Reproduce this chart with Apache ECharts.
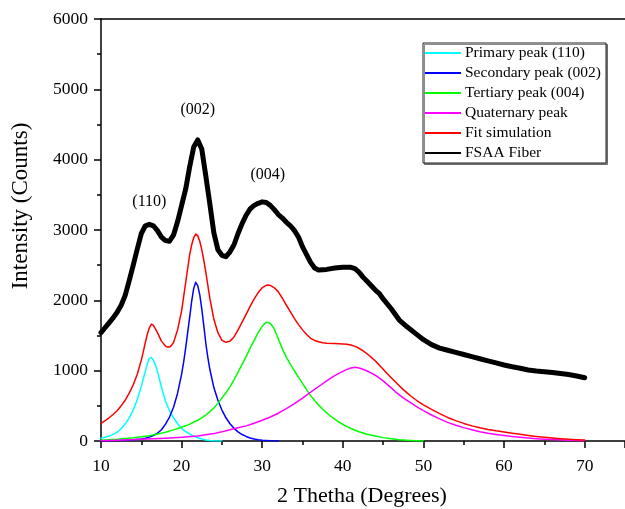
<!DOCTYPE html>
<html>
<head>
<meta charset="utf-8">
<script src="https://cdn.jsdelivr.net/npm/echarts@6/dist/echarts.min.js"></script>
<style>
  html, body { margin: 0; padding: 0; background: #fff; }
  #chart { width: 625px; height: 509px; }
</style>
</head>
<body>
<div id="chart"></div>
<script>
// XRD pattern of FSAA fiber with deconvoluted peaks: [2θ (deg), intensity (counts)]
const primaryPeak110 = [
  [10, 38], [10.5, 52], [11, 70], [11.5, 95], [12, 125], [12.5, 175], [13, 240], [13.5, 330],
  [14, 440], [14.5, 590], [15, 780], [15.25, 885], [15.5, 990], [15.75, 1100], [16, 1175],
  [16.25, 1188], [16.5, 1150], [16.75, 1080], [17, 990], [17.25, 880], [17.5, 765], [18, 565],
  [18.5, 430], [19, 330], [19.5, 245], [20, 180], [20.5, 135], [21, 100], [21.5, 70], [22, 45],
  [22.5, 28], [23, 15], [23.5, 8], [24, 4], [25, 0]
];
const secondaryPeak002 = [
  [10, 2], [12, 6], [13, 11], [14, 18], [15, 30], [15.5, 40], [16, 55], [16.5, 78], [17, 110],
  [17.5, 160], [18, 240], [18.5, 340], [19, 480], [19.5, 680], [20, 950], [20.25, 1120],
  [20.5, 1320], [20.75, 1540], [21, 1760], [21.25, 1990], [21.5, 2170], [21.75, 2256],
  [22, 2210], [22.25, 2080], [22.5, 1880], [22.75, 1640], [23, 1390], [23.25, 1190],
  [23.5, 1020], [24, 760], [24.5, 580], [25, 440], [25.5, 330], [26, 245], [26.5, 180],
  [27, 130], [27.5, 92], [28, 65], [28.5, 43], [29, 28], [29.5, 17], [30, 10], [31, 2], [32, 0]
];
const tertiaryPeak004 = [
  [10, 12], [12, 25], [14, 45], [16, 75], [17, 98], [18, 125], [19, 158], [20, 195], [21, 240],
  [22, 295], [22.5, 330], [23, 370], [23.5, 418], [24, 470], [24.5, 535], [25, 610], [25.5, 685],
  [26, 770], [26.5, 870], [27, 980], [27.5, 1090], [28, 1200], [28.5, 1320], [29, 1430],
  [29.5, 1540], [30, 1630], [30.25, 1665], [30.5, 1685], [30.75, 1685], [31, 1670],
  [31.25, 1635], [31.5, 1590], [32, 1450], [32.5, 1310], [33, 1190], [33.5, 1090], [34, 995],
  [34.5, 905], [35, 820], [35.5, 730], [36, 645], [36.5, 575], [37, 510], [37.5, 452],
  [38, 400], [38.5, 352], [39, 310], [39.5, 270], [40, 235], [40.5, 205], [41, 178], [42, 132],
  [43, 97], [44, 70], [45, 48], [46, 31], [47, 19], [48, 10], [49, 4], [50, 0]
];
const quaternaryPeak = [
  [10, 4], [12, 12], [15, 25], [18, 40], [20, 52], [22, 72], [24, 105], [25, 130], [26, 160],
  [27, 188], [28, 215], [29, 252], [30, 295], [31, 342], [32, 395], [33, 460], [34, 530],
  [35, 610], [36, 695], [37, 775], [38, 855], [38.5, 895], [39, 930], [39.5, 962], [40, 990],
  [40.5, 1018], [41, 1038], [41.5, 1047], [42, 1038], [42.5, 1020], [43, 995], [43.5, 968],
  [44, 935], [44.5, 897], [45, 855], [45.5, 806], [46, 755], [46.5, 703], [47, 655], [47.5, 613],
  [48, 575], [48.5, 537], [49, 500], [49.5, 465], [50, 432], [51, 370], [52, 315], [53, 265],
  [54, 225], [55, 190], [56, 160], [57, 132], [58, 110], [59, 93], [60, 78], [61, 64], [62, 52],
  [63, 42], [64, 33], [65, 26], [66, 20], [68, 11], [70, 5]
];
const fitSimulation = [
  [10, 251], [10.5, 288], [11, 330], [11.5, 377], [12, 430], [12.5, 500], [13, 580], [13.5, 680],
  [14, 800], [14.5, 950], [15, 1150], [15.25, 1270], [15.5, 1400], [15.75, 1520], [16, 1610],
  [16.25, 1662], [16.5, 1645], [16.75, 1595], [17, 1540], [17.5, 1420], [18, 1350],
  [18.25, 1335], [18.5, 1335], [18.75, 1360], [19, 1400], [19.5, 1580], [20, 1850], [20.5, 2250],
  [21, 2650], [21.25, 2790], [21.5, 2890], [21.75, 2942], [22, 2920], [22.25, 2840],
  [22.5, 2720], [22.75, 2570], [23, 2400], [23.5, 2030], [24, 1730], [24.5, 1540], [25, 1430],
  [25.5, 1403], [26, 1420], [26.5, 1480], [27, 1580], [27.5, 1690], [28, 1800], [28.5, 1915],
  [29, 2020], [29.5, 2110], [30, 2180], [30.5, 2213], [30.75, 2218], [31, 2212], [31.5, 2178],
  [32, 2120], [32.5, 2030], [33, 1930], [33.5, 1835], [34, 1740], [34.5, 1655], [35, 1580],
  [35.5, 1515], [36, 1460], [36.5, 1430], [37, 1410], [37.5, 1398], [38, 1390], [39, 1385],
  [40, 1380], [40.5, 1375], [41, 1365], [41.5, 1345], [42, 1318], [42.5, 1283], [43, 1240],
  [43.5, 1193], [44, 1140], [44.5, 1082], [45, 1020], [45.5, 960], [46, 900], [46.5, 842],
  [47, 785], [47.5, 730], [48, 680], [48.5, 633], [49, 590], [49.5, 550], [50, 515], [51, 450],
  [52, 390], [53, 335], [54, 290], [55, 250], [56, 215], [57, 188], [58, 165], [59, 145],
  [60, 128], [61, 111], [62, 95], [63, 79], [64, 65], [65, 53], [66, 42], [67, 33], [68, 25],
  [69, 19], [70, 14]
];
const fsaaFiber = [
  [10, 1540], [10.5, 1610], [11, 1680], [11.5, 1750], [12, 1830], [12.5, 1930], [13, 2070],
  [13.5, 2280], [14, 2500], [14.5, 2730], [15, 2950], [15.5, 3060], [16, 3080], [16.5, 3060],
  [17, 2990], [17.5, 2900], [18, 2850], [18.5, 2840], [19, 2930], [19.5, 3120], [20, 3350],
  [20.5, 3580], [21, 3900], [21.5, 4180], [22, 4280], [22.5, 4150], [23, 3770], [23.5, 3370],
  [24, 2960], [24.5, 2720], [25, 2640], [25.5, 2620], [26, 2690], [26.5, 2790], [27, 2950],
  [27.5, 3090], [28, 3210], [28.5, 3300], [29, 3350], [29.5, 3380], [30, 3400], [30.5, 3390],
  [31, 3350], [31.5, 3290], [32, 3220], [32.5, 3170], [33, 3110], [33.5, 3060], [34, 2990],
  [34.5, 2900], [35, 2760], [35.5, 2650], [36, 2540], [36.5, 2460], [37, 2430], [38, 2440],
  [39, 2460], [40, 2470], [41, 2470], [41.5, 2450], [42, 2400], [42.5, 2330], [43, 2270],
  [43.5, 2210], [44, 2150], [44.5, 2100], [45, 2020], [46, 1880], [47, 1720], [48, 1620],
  [49, 1530], [50, 1440], [51, 1370], [52, 1320], [53, 1290], [54, 1260], [55, 1230],
  [56, 1200], [57, 1170], [58, 1140], [59, 1110], [60, 1080], [61, 1055], [62, 1035],
  [63, 1010], [64, 995], [65, 985], [66, 975], [67, 960], [68, 945], [69, 925], [70, 900]
];
const seriesNames = [
  'Primary peak (110)', 'Secondary peak (002)', 'Tertiary peak (004)',
  'Quaternary peak', 'Fit simulation', 'FSAA Fiber'
];
// Miller-index labels above the diffraction maxima: [2θ, counts, text]
const peakLabels = [
  [16.0, 3400, '(110)'],
  [22.0, 4710, '(002)'],
  [30.7, 3790, '(004)']
];

const FONT = '"Liberation Serif", "Times New Roman", serif';
const chart = echarts.init(document.getElementById('chart'), null, { renderer: 'canvas' });

function curve(name, data, color, width) {
  return {
    name: name,
    type: 'line',
    data: data,
    showSymbol: false,
    symbol: 'none',
    smooth: false,
    lineStyle: { color: color, width: width, join: 'round', cap: 'round' },
    itemStyle: { color: color },
    emphasis: { disabled: true },
    animation: false,
    z: 2
  };
}

const series = [
  curve(seriesNames[0], primaryPeak110, '#00FFFF', 1.5),
  curve(seriesNames[1], secondaryPeak002, '#0000FF', 1.5),
  curve(seriesNames[2], tertiaryPeak004, '#00FF00', 1.5),
  curve(seriesNames[3], quaternaryPeak, '#FF00FF', 1.5),
  curve(seriesNames[4], fitSimulation, '#FF0000', 1.5),
  curve(seriesNames[5], fsaaFiber, '#000000', 5)
];
series[5].z = 3;
series[5].markPoint = {
  symbol: 'circle',
  symbolSize: 1,
  itemStyle: { color: 'rgba(0,0,0,0)' },
  label: {
    show: true,
    position: 'inside',
    color: '#000',
    fontFamily: FONT,
    fontSize: 16,
    formatter: p => p.name
  },
  data: peakLabels.map(d => ({ coord: [d[0], d[1]], name: d[2] }))
};

const axisFont = { fontFamily: FONT, fontSize: 17.5, color: '#000' };

chart.setOption({
  backgroundColor: '#fff',
  animation: false,
  grid: { left: 101, right: -1, top: 19, bottom: 68, containLabel: false },
  legend: {
    orient: 'vertical',
    left: 423,
    top: 43,
    data: seriesNames,
    icon: 'rect',
    itemWidth: 36,
    itemHeight: 2,
    itemGap: 4,
    padding: [2, 5, 2, 2],
    borderColor: '#222',
    borderWidth: 1,
    backgroundColor: '#fff',
    shadowColor: 'rgba(0,0,0,0.45)',
    shadowBlur: 0,
    shadowOffsetX: 1.5,
    shadowOffsetY: 1.5,
    textStyle: { fontFamily: FONT, fontSize: 15.5, color: '#000', lineHeight: 15.5, padding: [0, 0, 0, -1] },
    selectedMode: false
  },
  xAxis: [
    {
      type: 'value',
      min: 10,
      max: 75,
      interval: 10,
      position: 'bottom',
      axisLine: { show: true, onZero: false, lineStyle: { color: '#000', width: 1.5 } },
      axisTick: { show: true, inside: false, length: 7, lineStyle: { color: '#000', width: 1.5 } },
      minorTick: { show: true, splitNumber: 2, length: 4, lineStyle: { color: '#000', width: 1.5 } },
      axisLabel: { ...axisFont, margin: 16, showMaxLabel: false },
      splitLine: { show: false }
    },
    {
      type: 'value',
      min: 10,
      max: 75,
      interval: 10,
      position: 'top',
      axisLine: { show: true, onZero: false, lineStyle: { color: '#000', width: 1.5 } },
      axisTick: { show: false },
      axisLabel: { show: false },
      splitLine: { show: false }
    }
  ],
  yAxis: {
    type: 'value',
    min: 0,
    max: 6000,
    interval: 1000,
    axisLine: { show: true, onZero: false, lineStyle: { color: '#000', width: 1.5 } },
    axisTick: { show: true, inside: false, length: 7, lineStyle: { color: '#000', width: 1.5 } },
    minorTick: { show: true, splitNumber: 2, length: 4, lineStyle: { color: '#000', width: 1.5 } },
    axisLabel: { ...axisFont, margin: 13, formatter: v => String(v) },
    splitLine: { show: false }
  },
  graphic: [
    {
      type: 'text',
      x: 21,
      y: 206,
      rotation: Math.PI / 2,
      style: {
        text: 'Intensity (Counts)',
        fill: '#000',
        font: '23px ' + FONT,
        align: 'center',
        verticalAlign: 'middle'
      }
    },
    {
      type: 'text',
      x: 362,
      y: 496,
      style: {
        text: '2 Thetha (Degrees)',
        fill: '#000',
        font: '22px ' + FONT,
        align: 'center',
        verticalAlign: 'middle'
      }
    }
  ],
  series: series
});
</script>
</body>
</html>
